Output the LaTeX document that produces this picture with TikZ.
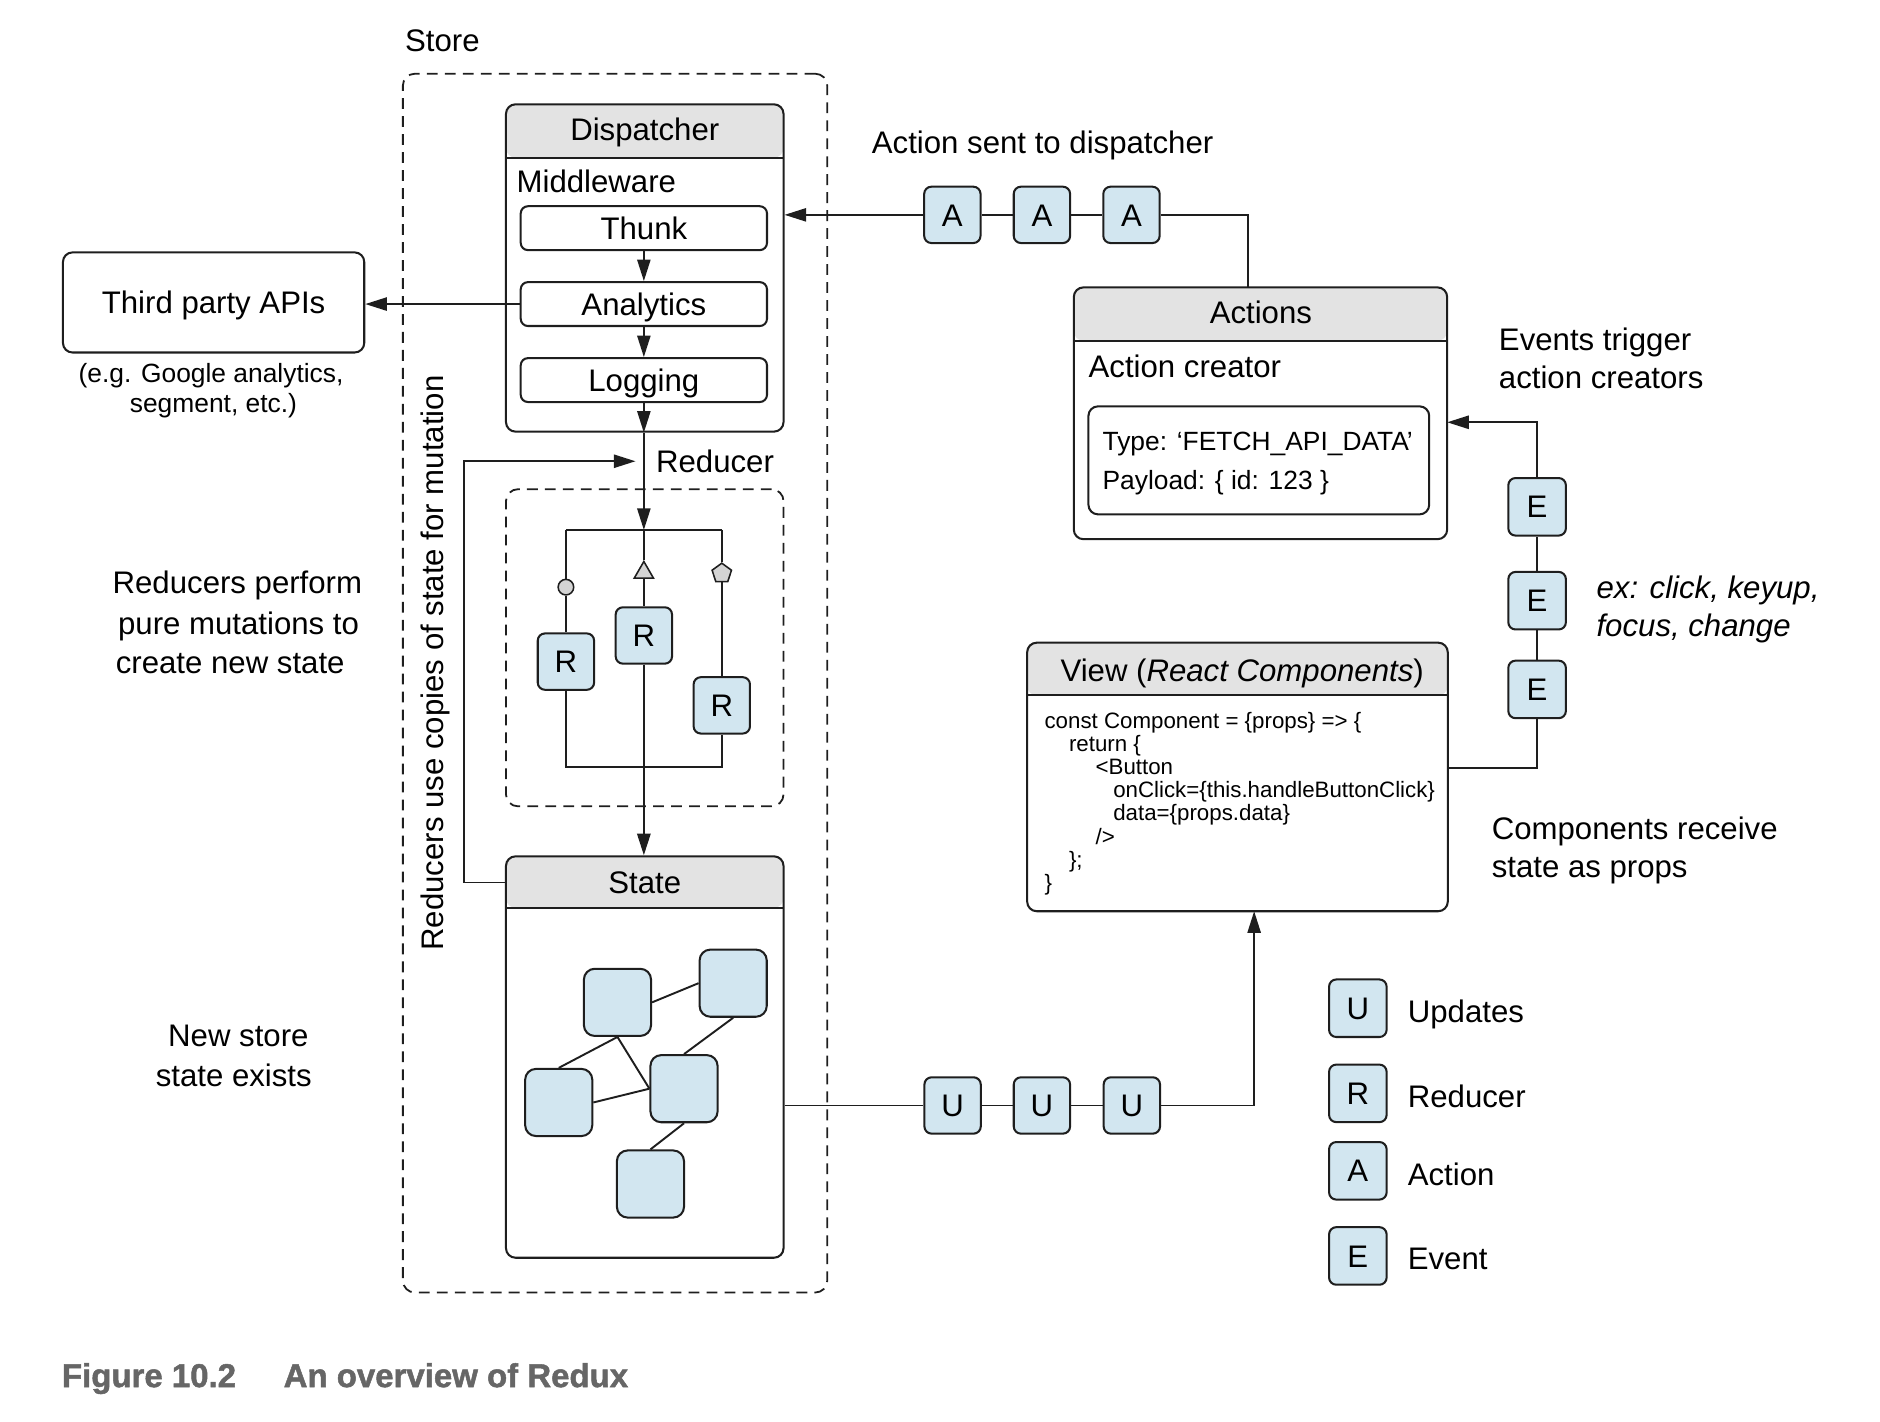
\documentclass[tikz,border=0pt]{standalone}
\usepackage{fontspec}
\setmainfont{Liberation Sans}
\newfontfamily\xcapfam{Liberation Sans}[BoldFeatures={FakeBold=1.5}]
\usetikzlibrary{arrows.meta,shapes.geometric}
\definecolor{ink}{HTML}{1E1E1E}
\definecolor{tokc}{HTML}{D2E6F0}
\definecolor{hdrc}{HTML}{E3E3E3}
\definecolor{shpc}{HTML}{D4D4D4}
\definecolor{capc}{HTML}{666666}
\newcommand\xfmain{\fontsize{26}{31}\selectfont}
\newcommand\xfsmall{\fontsize{22}{26}\selectfont}
\newcommand\xfcode{\fontsize{18.6}{19.3}\selectfont}
\newcommand\xfcap{\xcapfam\fontsize{27.5}{33}\selectfont\bfseries}
\tikzset{
 ln/.style={draw=ink,line width=1.6pt},
 arr/.style={ln,-{Triangle[length=18pt,width=11pt]}},
 boxs/.style={draw=ink,line width=1.7pt,rounded corners=8pt,inner sep=0pt},
 ctr/.style={font=\xfmain,text height=18.6pt,text depth=0pt},
 smallbox/.style={boxs,ctr,rounded corners=6pt,minimum width=205.4pt,minimum height=36.6pt},
 tokn/.style={boxs,ctr,fill=tokc,rounded corners=6pt,minimum width=47pt,minimum height=47pt},
 sbox/.style={boxs,fill=tokc,rounded corners=9pt,minimum width=56pt,minimum height=56pt},
 dbox/.style={draw=ink,line width=1.5pt,dash pattern=on 9pt off 6pt,rounded corners=10pt,inner sep=0pt},
 lbl/.style={inner sep=0pt,ctr},
 slbl/.style={inner sep=0pt,font=\xfsmall,text height=15.8pt,text depth=0pt},
 codeln/.style={inner sep=0pt,font=\xfcode,anchor=base west},
 shp/.style={draw=ink,line width=1.3pt,fill=shpc,inner sep=0pt},
 hdrbox/.style={boxs,path picture={
   \fill[hdrc] (path picture bounding box.north west) rectangle ([yshift=-#1]path picture bounding box.north east);
   \draw[ink,line width=1.7pt] ([yshift=-#1]path picture bounding box.north west) -- ([yshift=-#1]path picture bounding box.north east);}},
}
\begin{document}
\begin{tikzpicture}[x=1pt,y=-1pt]
\useasboundingbox (0,0) rectangle (1568,1186);

% ---------- Store ----------
\node[dbox,minimum width=354pt,minimum height=1016.5pt] (store) at (513,569.75) {};
\node[lbl] (storelbl) at (369,34) {Store};

% ---------- Dispatcher ----------
\node[hdrbox=44.5pt,minimum width=231.5pt,minimum height=273pt] (disp) at (537.75,223.5) {};
\node[lbl] (disptitle) at (537.75,108) {Dispatcher};
\node[lbl,anchor=west] (mw) at (430.7,151) {Middleware};
\node[smallbox] (thunk) at (537,190.3) {Thunk};
\node[smallbox] (analytics) at (537,253.6) {Analytics};
\node[smallbox] (logging) at (537,317) {Logging};
\draw[arr] (thunk.south) -- (analytics.north);
\draw[arr] (analytics.south) -- (logging.north);
\draw[arr] (logging.south) -- (logging.south |- disp.south);

% ---------- Third party ----------
\node[boxs,ctr,minimum width=251.3pt,minimum height=83.5pt] (tp) at (178.15,252.25) {Third party APIs};
\node[slbl] (tpn1) at (176,310.7) {(e.g. Google analytics,};
\node[slbl] (tpn2) at (178,336.4) {segment, etc.)};
\draw[arr] (analytics.west) -- (analytics.west -| tp.east);

% ---------- Reducer ----------
\node[lbl,anchor=west] (redlbl) at (547,384.7) {Reducer};
\node[dbox,minimum width=231.5pt,minimum height=264.5pt] (redbox) at (537.75,540.25) {};
\coordinate (btm) at (537,442);
\coordinate (btl) at (472,442);
\coordinate (btr) at (602,442);
\coordinate (bbl) at (472,640);
\coordinate (bbr) at (602,640);
\draw[arr] (logging.south |- disp.south) -- (btm);
\node[tokn] (r1) at (472,551.8) {R};
\node[tokn] (r2) at (537,530) {R};
\node[tokn] (r3) at (602,588.3) {R};
\node[shp,circle,minimum size=13pt] (cir) at (472,489.7) {};
\node[shp,regular polygon,regular polygon sides=3,minimum size=18.4pt] (tri) at (537,477.5) {};
\node[shp,regular polygon,regular polygon sides=5,minimum size=17pt] (pen) at (602,478.2) {};
\draw[ln] (btl) -- (btr);
\draw[ln] (btl) -- (cir.north);
\draw[ln] (cir.south) -- (r1.north);
\draw[ln] (btm) -- (tri.north);
\draw[ln] (tri.south) -- (r2.north);
\draw[ln] (btr) -- (pen.north);
\draw[ln] (pen.south) -- (r3.north);
\draw[ln] (r1.south) -- (bbl) -- (bbr) -- (r3.south);

% ---------- State ----------
\node[hdrbox=43pt,minimum width=231.5pt,minimum height=334.8pt] (state) at (537.75,881.6) {};
\node[lbl] (sttitle) at (537.75,736) {State};
\draw[arr,line width=1.9pt] (r2.south) -- (r2.south |- state.north);
\coordinate (lpin) at (530,384.7);
\draw[arr] (state.west |- sttitle) -- ++(-34,0) |- (lpin);
\node[sbox] (s1) at (515,836) {};
\node[sbox] (s2) at (611.5,820) {};
\node[sbox] (s3) at (466,919.5) {};
\node[sbox] (s4) at (570.5,908) {};
\node[sbox] (s5) at (542.5,987.5) {};
\draw[ln] (s1.east) -- (s2.west);
\draw[ln] (s2.south) -- (s4.north);
\draw[ln] (s1.south) -- (s3.north);
\draw[ln] (s1.south) -- (s4.west);
\draw[ln] (s3.east) -- (s4.west);
\draw[ln] (s4.south) -- (s5.north);

% ---------- Updates ----------
\node[tokn] (u1) at (794.5,922) {U};
\node[tokn] (u2) at (869,922) {U};
\node[tokn] (u3) at (944,922) {U};
\draw[ln] (state.east |- u1.west) -- (u1.west);
\draw[ln] (u1) -- (u2);
\draw[ln] (u2) -- (u3);

% ---------- View ----------
\node[hdrbox=44pt,minimum width=350.8pt,minimum height=224pt] (view) at (1032.1,648) {};
\node[lbl] (viewtitle) at (1036,559.3) {View (\textit{React Components})};
\node[codeln] (cl1) at (871,607.5) {const Component = \{props\} => \{};
\node[codeln] (cl2) at (891.4,626.8) {return \{};
\node[codeln] (cl3) at (913.6,646.1) {<Button};
\node[codeln] (cl4) at (928.3,665.4) {onClick=\{this.handleButtonClick\}};
\node[codeln] (cl5) at (928.3,684.7) {data=\{props.data\}};
\node[codeln] (cl6) at (913.6,704) {/>};
\node[codeln] (cl7) at (891.4,723.3) {\};};
\node[codeln] (cl8) at (871,742.6) {\}};
\coordinate (vin) at (1046,760);
\draw[arr] (u3.east) -| (vin);

% ---------- Events ----------
\node[tokn,minimum width=48pt,minimum height=48pt] (e1) at (1282,422.7) {E};
\node[tokn,minimum width=48pt,minimum height=48pt] (e2) at (1282,501) {E};
\node[tokn,minimum width=48pt,minimum height=48pt] (e3) at (1282,575) {E};
\coordinate (ve) at (1207.5,640.5);
\draw[ln] (ve) -| (e3.south);
\draw[ln] (e3) -- (e2);
\draw[ln] (e2) -- (e1);

% ---------- Actions ----------
\node[hdrbox=44.5pt,minimum width=311.4pt,minimum height=210pt] (actions) at (1051.3,344.7) {};
\node[lbl] (acttitle) at (1051.6,260.8) {Actions};
\node[lbl,anchor=west] (actcr) at (907.8,305.6) {Action creator};
\node[boxs,minimum width=284.2pt,minimum height=90.1pt] (payload) at (1049.9,383.95) {};
\node[slbl,anchor=west] (ty) at (919.4,368) {Type: ‘FETCH\_API\_DATA’};
\node[slbl,anchor=west] (pl) at (919.4,400.6) {Payload: \{ id: 123 \}};
\coordinate (ain) at (1207,352.2);
\draw[arr] (e1.north) |- (ain);

\node[tokn] (a1) at (794.3,179.2) {A};
\node[tokn] (a2) at (869,179.2) {A};
\node[tokn] (a3) at (943.7,179.2) {A};
\draw[arr] (a1.west) -- (a1.west -| disp.east);
\draw[ln] (a1) -- (a2);
\draw[ln] (a2) -- (a3);
\coordinate (atop) at (1040.8,239.7);
\draw[ln] (a3.east) -| (atop);
\node[lbl,anchor=west] (asent) at (727,119) {Action sent to dispatcher};

% ---------- Annotations ----------
\node[lbl,anchor=west] (ev1) at (1250,283.4) {Events trigger};
\node[lbl,anchor=west] (ev2) at (1250,314.8) {action creators};
\node[lbl,anchor=west,font=\xfmain\itshape] (ex1) at (1331.4,490.2) {ex: click, keyup,};
\node[lbl,anchor=west,font=\xfmain\itshape] (ex2) at (1331.4,521.6) {focus, change};
\node[lbl,anchor=west] (cr1) at (1244,690.7) {Components receive};
\node[lbl,anchor=west] (cr2) at (1244,722.9) {state as props};

\node[lbl] (rp1) at (198,485.6) {Reducers perform};
\node[lbl] (rp2) at (199,519.6) {pure mutations to};
\node[lbl] (rp3) at (192,552.6) {create new state};
\node[lbl] (ns1) at (198.8,863.8) {New store};
\node[lbl] (ns2) at (195,896.7) {state exists};
\node[lbl,rotate=90] (vert) at (361,553) {Reducers use copies of state for mutation};

% ---------- Legend ----------
\node[tokn,minimum width=48pt,minimum height=48pt] (lu) at (1132.5,840.9) {U};
\node[tokn,minimum width=48pt,minimum height=48pt] (lr) at (1132.5,911.9) {R};
\node[tokn,minimum width=48pt,minimum height=48pt] (la) at (1132.5,976.5) {A};
\node[tokn,minimum width=48pt,minimum height=48pt] (le) at (1132.5,1047.5) {E};
\node[lbl,anchor=west] (lut) at (1174,843.8) {Updates};
\node[lbl,anchor=west] (lrt) at (1174,914.5) {Reducer};
\node[lbl,anchor=west] (lat) at (1174,979.8) {Action};
\node[lbl,anchor=west] (let) at (1174,1049.8) {Event};

% ---------- Caption ----------
\node[lbl,anchor=west,font=\xfcap,text height=19.7pt,text=capc] (fig) at (51.5,1147) {Figure 10.2};
\node[lbl,anchor=west,font=\xfcap,text height=19.7pt,text=capc] (figt) at (236.4,1147) {An overview of Redux};
\end{tikzpicture}
\end{document}
